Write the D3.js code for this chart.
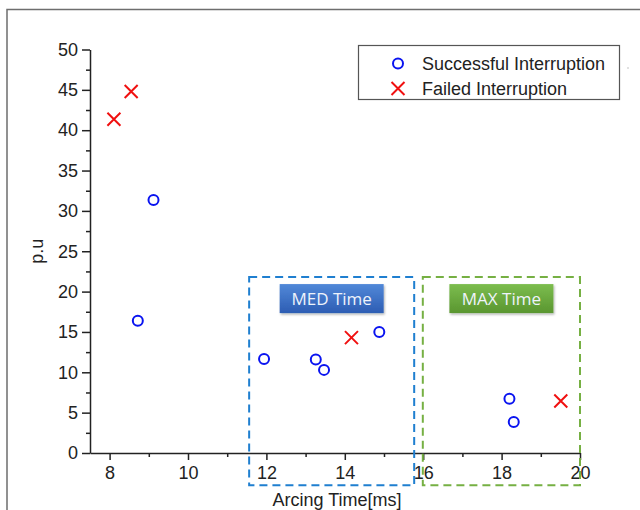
<!DOCTYPE html>
<html>
<head>
<meta charset="utf-8">
<script src="https://cdn.jsdelivr.net/npm/d3@7"></script>
<style>
  body { margin: 0; background: #fff; }
  text { font-family: "Liberation Sans", Arial, sans-serif; }
</style>
</head>
<body>
<div id="chart"></div>
<script>
// data
const successTime = [9.12, 8.72, 11.94, 13.26, 13.47, 14.88, 18.2, 18.31];
const successPu = [31.35, 16.4, 11.65, 11.6, 10.3, 15.0, 6.73, 3.84];
const failedTime = [8.11, 8.55, 14.17, 19.51];
const failedPu = [41.35, 44.8, 14.3, 6.44];

const xTicks = [8, 10, 12, 14, 16, 18, 20];
const xMinor = [9, 11, 13, 15, 17, 19];
const yTicks = [0, 5, 10, 15, 20, 25, 30, 35, 40, 45, 50];
const yMinor = [2.5, 7.5, 12.5, 17.5, 22.5, 27.5, 32.5, 37.5, 42.5, 47.5];

const regionNames = ['MED Time', 'MAX Time'];
const regionStart = [11.56, 15.99];
const regionEnd = [15.77, 20.0];
const regionTop = 21.8;
const regionBottom = -4.0;

const seriesNames = ['Successful Interruption', 'Failed Interruption'];

const W = 640, H = 510;
const FS = 18;

const svg = d3.select('#chart').append('svg')
  .attr('width', W).attr('height', H);

const x = d3.scaleLinear().domain([7.5, 20]).range([90, 580]);
const y = d3.scaleLinear().domain([0, 50]).range([453, 49.5]);

// outer frame (top and left edge only are visible)
svg.append('path')
  .attr('d', `M7,${H} V9.5 H${W}`)
  .attr('fill', 'none')
  .attr('stroke', '#6e6e6e')
  .attr('stroke-width', 1.5);
svg.append('circle').attr('cx', 628).attr('cy', 68).attr('r', 0.8).attr('fill', '#bbb');

const defs = svg.append('defs');
const grads = [
  { id: 'gMed', top: '#5188d8', bottom: '#2d5db3' },
  { id: 'gMax', top: '#7cbd4e', bottom: '#5a9630' },
];
grads.forEach((g) => {
  const lg = defs.append('linearGradient').attr('id', g.id)
    .attr('x1', 0).attr('y1', 0).attr('x2', 0).attr('y2', 1);
  lg.append('stop').attr('offset', '0%').attr('stop-color', g.top);
  lg.append('stop').attr('offset', '100%').attr('stop-color', g.bottom);
});
const shadow = defs.append('filter').attr('id', 'shadow')
  .attr('x', '-10%').attr('y', '-10%').attr('width', '130%').attr('height', '140%');
shadow.append('feDropShadow').attr('dx', 1).attr('dy', 1.5)
  .attr('stdDeviation', 1.2).attr('flood-color', '#000').attr('flood-opacity', 0.3);

// axes
svg.append('g').attr('transform', `translate(${x(7.5)},0)`)
  .call(d3.axisLeft(y).tickValues(yTicks).tickSize(8).tickSizeOuter(0).tickPadding(4));
svg.append('g').attr('transform', `translate(${x(7.5)},0)`)
  .call(d3.axisLeft(y).tickValues(yMinor).tickSize(4).tickSizeOuter(0).tickFormat(''))
  .select('.domain').remove();

svg.append('g').attr('transform', `translate(0,${y(0)})`)
  .call(d3.axisBottom(x).tickValues(xTicks).tickSize(7).tickSizeOuter(0).tickPadding(6));
svg.append('g').attr('transform', `translate(0,${y(0)})`)
  .call(d3.axisBottom(x).tickValues(xMinor).tickSize(4).tickSizeOuter(0).tickFormat(''))
  .select('.domain').remove();

svg.selectAll('.tick line').attr('stroke', '#222').attr('stroke-width', 1.5);
svg.selectAll('.domain').attr('stroke', '#222').attr('stroke-width', 1.5);
svg.selectAll('.tick text').attr('font-size', FS).attr('fill', '#222')
  .style('font-family', '"Liberation Sans", Arial, sans-serif');

// axis titles
svg.append('text')
  .attr('transform', `translate(43,${y(25)}) rotate(-90)`)
  .attr('text-anchor', 'middle')
  .attr('font-size', FS).attr('fill', '#222')
  .text('p.u');
svg.append('text')
  .attr('x', x(13.8)).attr('y', 505.5)
  .attr('text-anchor', 'middle')
  .attr('font-size', FS).attr('fill', '#222')
  .text('Arcing Time[ms]');

// dashed regions
const regionStroke = ['#1f7fd0', '#76b043'];
regionNames.forEach((name, i) => {
  svg.append('rect')
    .attr('x', x(regionStart[i])).attr('y', y(regionTop))
    .attr('width', x(regionEnd[i]) - x(regionStart[i]))
    .attr('height', y(regionBottom) - y(regionTop))
    .attr('fill', 'none')
    .attr('stroke', regionStroke[i])
    .attr('stroke-width', 2)
    .attr('stroke-dasharray', '8,5');
  const cx = (x(regionStart[i]) + x(regionEnd[i])) / 2;
  const bw = 104, bh = 29;
  svg.append('rect')
    .attr('x', cx - bw / 2).attr('y', y(regionTop) + 7)
    .attr('width', bw).attr('height', bh)
    .attr('fill', `url(#${grads[i].id})`)
    .attr('filter', 'url(#shadow)');
  svg.append('text')
    .attr('x', cx).attr('y', y(regionTop) + 7 + bh / 2 + 6)
    .attr('text-anchor', 'middle')
    .attr('font-size', 17)
    .attr('fill', '#eef3fb')
    .style('font-family', '"Open Sans", "Noto Sans", sans-serif')
    .text(name);
});

// markers
const crossPath = (s) => `M${-s},${-s}L${s},${s}M${-s},${s}L${s},${-s}`;

svg.append('g').selectAll('circle')
  .data(successTime.map((t, i) => [t, successPu[i]]))
  .join('circle')
  .attr('cx', (d) => x(d[0])).attr('cy', (d) => y(d[1]))
  .attr('r', 5)
  .attr('fill', 'none').attr('stroke', '#0a14f0').attr('stroke-width', 2);

svg.append('g').selectAll('path')
  .data(failedTime.map((t, i) => [t, failedPu[i]]))
  .join('path')
  .attr('transform', (d) => `translate(${x(d[0])},${y(d[1])})`)
  .attr('d', crossPath(6.5))
  .attr('fill', 'none').attr('stroke', '#f01010').attr('stroke-width', 2);

// legend
const legend = svg.append('g');
legend.append('rect')
  .attr('x', 358.5).attr('y', 45.5).attr('width', 261).attr('height', 54)
  .attr('fill', '#fff').attr('stroke', '#555').attr('stroke-width', 1.2);
seriesNames.forEach((name, i) => {
  const ly = 63.5 + i * 25;
  if (i === 0) {
    legend.append('circle').attr('cx', 398).attr('cy', ly).attr('r', 5)
      .attr('fill', 'none').attr('stroke', '#0a14f0').attr('stroke-width', 2);
  } else {
    legend.append('path').attr('transform', `translate(398,${ly})`)
      .attr('d', crossPath(6.5))
      .attr('fill', 'none').attr('stroke', '#f01010').attr('stroke-width', 2);
  }
  legend.append('text')
    .attr('x', 422).attr('y', ly + 6.5)
    .attr('font-size', FS).attr('fill', '#222')
    .text(name);
});
</script>
</body>
</html>
